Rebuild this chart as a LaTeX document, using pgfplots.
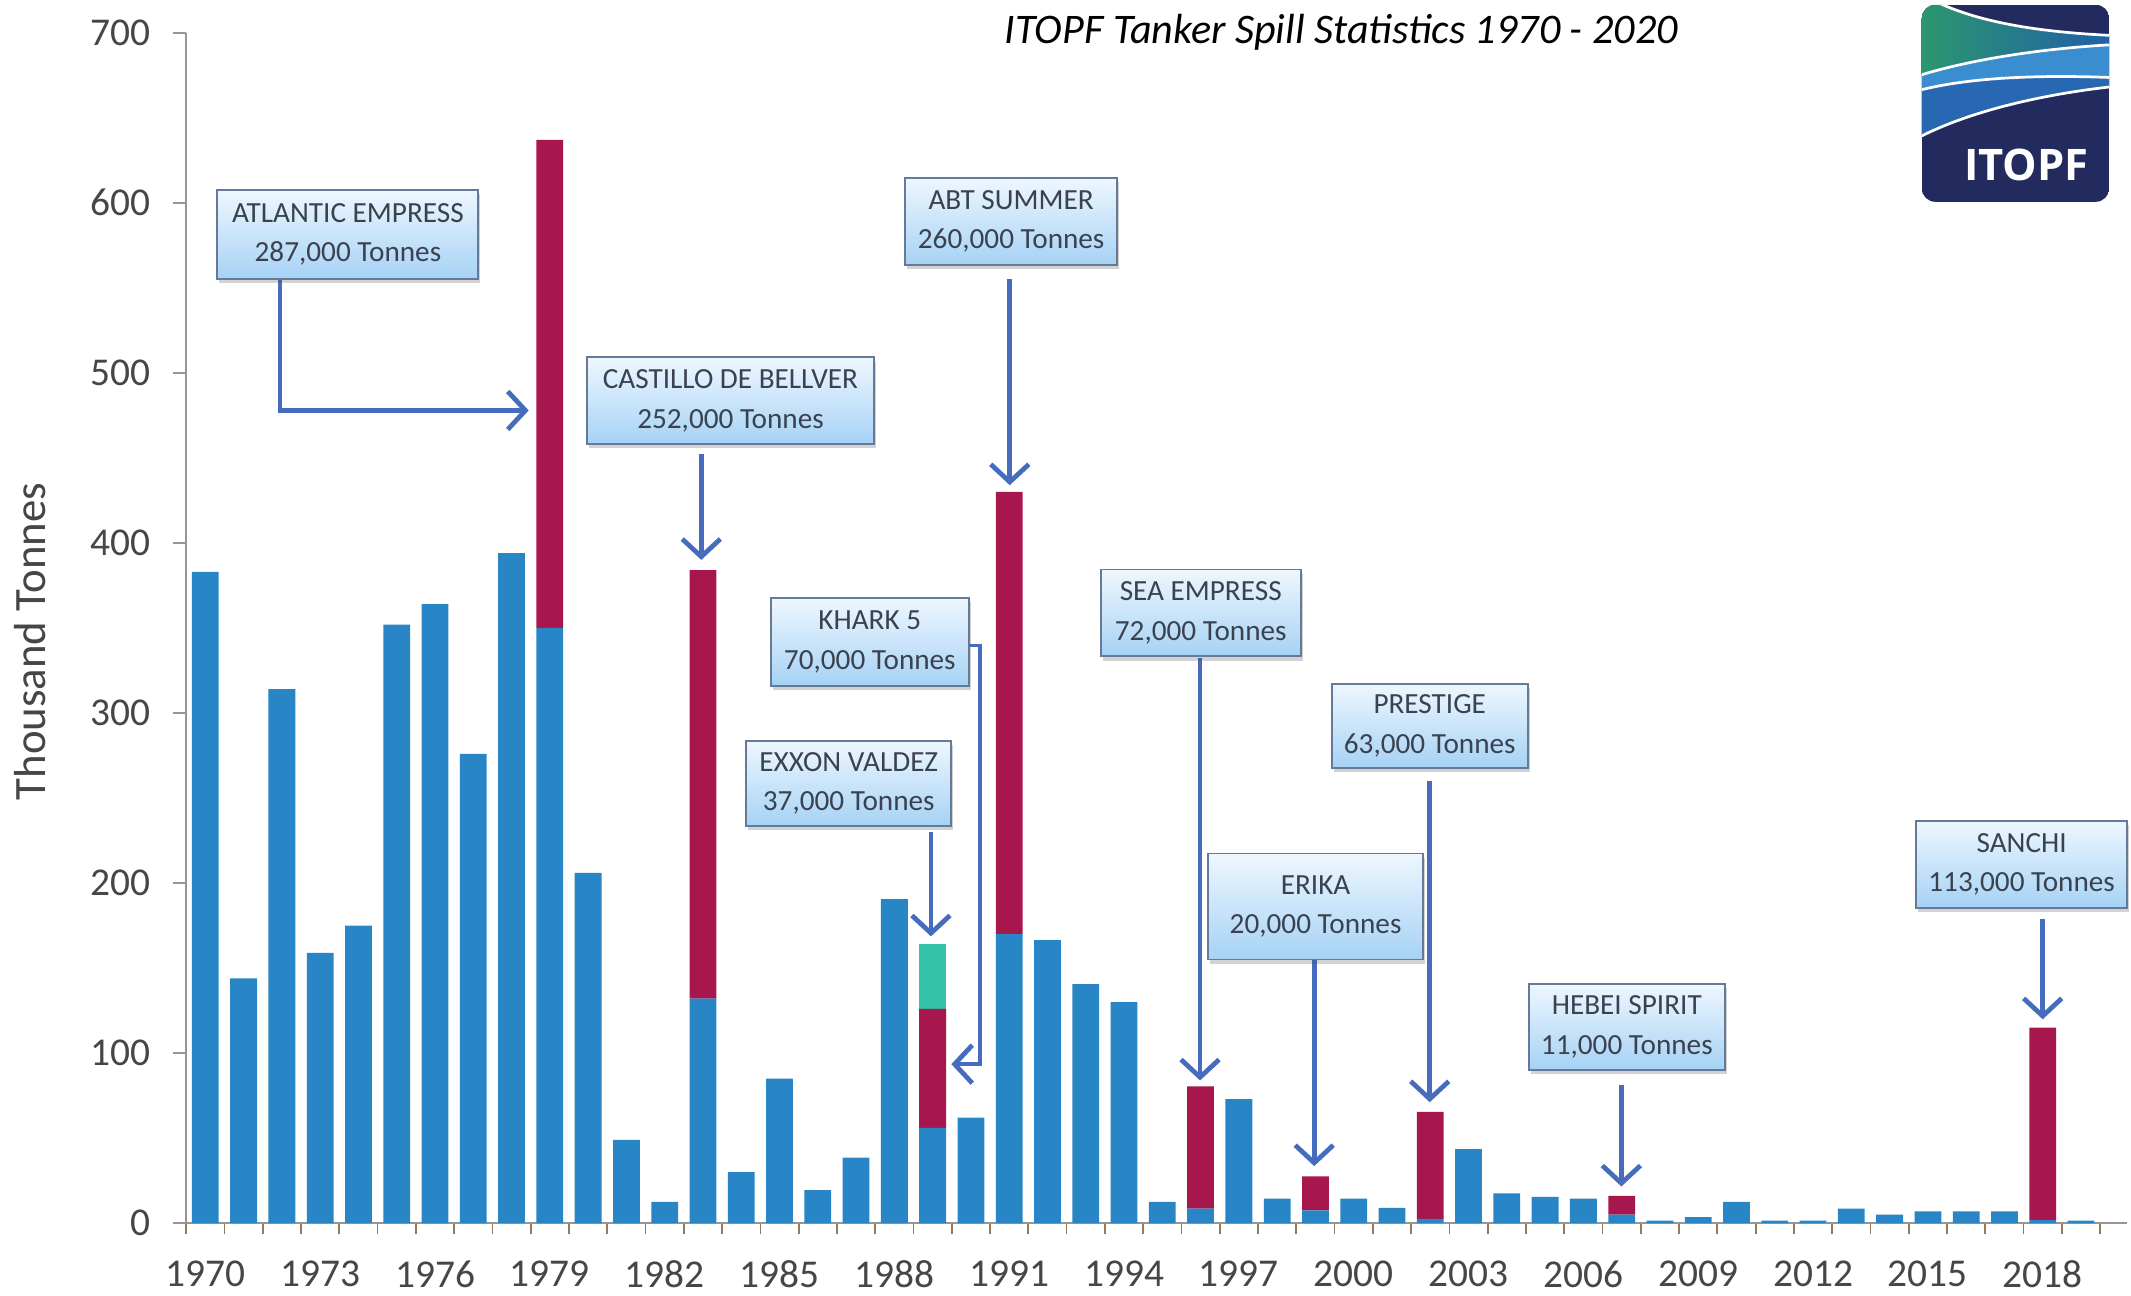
\documentclass[border=0pt]{standalone}
\usepackage{fontspec}
\setmainfont{Carlito}
\newfontfamily\logofont{Open Sans}
\usepackage{pgfplots}
\usepackage{pgfplotstable}
\pgfplotsset{compat=1.18}
\usetikzlibrary{arrows.meta,shadows}

\definecolor{barblue}{RGB}{40,134,198}
\definecolor{barred}{RGB}{168,22,78}
\definecolor{bargreen}{RGB}{52,194,168}
\definecolor{boxtop}{RGB}{238,247,254}
\definecolor{boxbot}{RGB}{166,210,245}
\definecolor{boxline}{RGB}{100,122,150}
\definecolor{boxtext}{RGB}{58,66,80}
\definecolor{arrowc}{RGB}{70,108,190}
\definecolor{axisgray}{RGB}{150,150,150}
\definecolor{tickbrown}{RGB}{150,122,92}
\definecolor{labelgray}{RGB}{70,70,70}
\definecolor{navy}{RGB}{35,42,94}
\definecolor{logogreen}{RGB}{44,150,112}
\definecolor{logoblue}{RGB}{32,96,168}
\definecolor{logolight}{RGB}{58,142,208}
\definecolor{logomid}{RGB}{40,104,178}

% thousand tonnes spilled per year: base, largest spill, second spill
\pgfplotstableread{
year blue red green
1970 383 0 0
1971 144 0 0
1972 314 0 0
1973 159 0 0
1974 175 0 0
1975 352 0 0
1976 364 0 0
1977 276 0 0
1978 394 0 0
1979 350 287 0
1980 206 0 0
1981 49 0 0
1982 12.5 0 0
1983 132 252 0
1984 30 0 0
1985 85 0 0
1986 19.5 0 0
1987 38.5 0 0
1988 190.5 0 0
1989 56 70 38
1990 62 0 0
1991 170 260 0
1992 166.5 0 0
1993 140.5 0 0
1994 130 0 0
1995 12.5 0 0
1996 8.5 72 0
1997 73 0 0
1998 14.5 0 0
1999 7.5 20 0
2000 14.5 0 0
2001 9 0 0
2002 2.5 63 0
2003 43.5 0 0
2004 17.5 0 0
2005 15.5 0 0
2006 14.5 0 0
2007 5 11 0
2008 1.5 0 0
2009 3.5 0 0
2010 12.5 0 0
2011 1.5 0 0
2012 1.5 0 0
2013 8.5 0 0
2014 5 0 0
2015 7 0 0
2016 7 0 0
2017 7 0 0
2018 2 113 0
2019 1.5 0 0
}\spills

\tikzset{
  box/.style={draw=boxline, line width=1.4bp, top color=boxtop, bottom color=boxbot,
    text=boxtext, align=center, inner sep=0pt,
    font=\fontsize{21.5bp}{29bp}\selectfont,
    drop shadow={shadow xshift=1.5bp, shadow yshift=-3bp, opacity=0.25, fill=black!70}},
  arr/.style={draw=arrowc, line width=3.5bp, line join=miter,
    -{Straight Barb[length=13bp,width=28bp,line width=3.5bp]}},
}

\begin{document}
\begin{tikzpicture}
\begin{scope}[x=1bp,y=-1bp]
  \fill[white] (0,0) rectangle (1568,953);
  \path[use as bounding box] (0,0) rectangle (1568,953);
\end{scope}

\begin{axis}[
  at={(137bp,-900bp)}, anchor=south west,
  scale only axis, width=1428bp, height=876bp,
  xmin=1969.5, xmax=2020.2, ymin=0, ymax=700,
  ybar stacked, bar width=0.7,
  axis lines=left,
  axis line style={-, draw=axisgray, line width=1.3bp},
  tick align=outside,
  xtick={1970,1973,...,2018},
  xticklabels={1970,1973,1976,1979,1982,1985,1988,1991,1994,1997,2000,2003,2006,2009,2012,2015,2018},
  minor xtick={1969.5,1970.5,...,2019.6},
  ytick={0,100,...,700},
  yticklabels={0,100,200,300,400,500,600,700},
  major tick length=10bp, minor tick length=8bp,
  major x tick style={draw=none},
  minor x tick style={draw=tickbrown, line width=1.3bp},
  y tick style={draw=axisgray, line width=1.3bp},
  /pgf/number format/assume math mode=true,
  ticklabel style={font=\fontsize{29bp}{30bp}\selectfont, text=labelgray},
  xticklabel style={yshift=-14bp},
  yticklabel style={xshift=-13bp},
]
\addplot[fill=barblue, draw=none] table[x=year,y=blue]{\spills};
\addplot[fill=barred, draw=none] table[x=year,y=red]{\spills};
\addplot[fill=bargreen, draw=none] table[x=year,y=green]{\spills};
\end{axis}

\begin{scope}[x=1bp,y=-1bp]
  % title and axis title
  \node[anchor=base, font=\itshape\fontsize{31bp}{32bp}\selectfont] at (987,32)
    {ITOPF Tanker Spill Statistics 1970 - 2020};
  \node[rotate=90, text=labelgray, font=\fontsize{33bp}{34bp}\selectfont] at (22,472)
    {Thousand Tonnes};

  % arrows
  \draw[arr] (206,206) -- (206,302) -- (389,302);
  \draw[arr] (516,334) -- (516,412);
  \draw[arr] (743,205) -- (743,357);
  \draw[arr, line width=2.5bp] (713,475) -- (721,475) -- (721,783) -- (700,783);
  \draw[arr] (685,612) -- (685,689);
  \draw[arr] (883,484) -- (883,795);
  \draw[arr] (967,701) -- (967,858);
  \draw[arr] (1052,575) -- (1052,811);
  \draw[arr] (1193,798) -- (1193,873);
  \draw[arr] (1503,676) -- (1503,750);

  % annotation boxes
  \node[box, minimum width=192bp, minimum height=65bp] at (256,172.5) {ATLANTIC EMPRESS\\287,000 Tonnes};
  \node[box, minimum width=211bp, minimum height=64bp] at (537.5,295) {CASTILLO DE BELLVER\\252,000 Tonnes};
  \node[box, minimum width=156bp, minimum height=64bp] at (744,163) {ABT SUMMER\\260,000 Tonnes};
  \node[box, minimum width=146bp, minimum height=65bp] at (640,472.5) {KHARK 5\\70,000 Tonnes};
  \node[box, minimum width=151bp, minimum height=63bp] at (624.5,576.5) {EXXON VALDEZ\\37,000 Tonnes};
  \node[box, minimum width=147bp, minimum height=64bp] at (883.5,451) {SEA EMPRESS\\72,000 Tonnes};
  \node[box, minimum width=158bp, minimum height=78bp] at (968,667) {ERIKA\\20,000 Tonnes};
  \node[box, minimum width=144bp, minimum height=62bp] at (1052,534) {PRESTIGE\\63,000 Tonnes};
  \node[box, minimum width=144bp, minimum height=63bp] at (1197,755.5) {HEBEI SPIRIT\\11,000 Tonnes};
  \node[box, minimum width=155bp, minimum height=64bp] at (1487.5,636) {SANCHI\\113,000 Tonnes};

  % logo
  \begin{scope}
    \clip[rounded corners=10bp] (1414,3.5) rectangle (1552,148.5);
    \fill[navy] (1414,3.5) rectangle (1552,148.5);
    \shade[left color=logogreen, right color=logoblue]
      (1414,0) -- (1422,0) .. controls (1450,14) and (1490,23) .. (1552,26)
      -- (1552,33) .. controls (1500,36) and (1450,44) .. (1414,55) -- cycle;
    \fill[logolight]
      (1414,55) .. controls (1450,44) and (1500,36) .. (1552,33)
      -- (1552,57) .. controls (1500,55) and (1450,57) .. (1414,66) -- cycle;
    \fill[logomid]
      (1414,66) .. controls (1450,57) and (1500,55) .. (1552,57)
      -- (1552,64) .. controls (1500,70) and (1450,82) .. (1414,100) -- cycle;
    \draw[white, line width=2bp] (1422,0) .. controls (1450,14) and (1490,23) .. (1552,26);
    \draw[white, line width=2bp] (1414,55) .. controls (1450,44) and (1500,36) .. (1552,33);
    \draw[white, line width=2bp] (1414,66) .. controls (1450,57) and (1500,55) .. (1552,57);
    \draw[white, line width=2bp] (1414,100) .. controls (1450,82) and (1500,70) .. (1552,64);
  \end{scope}
  \node[text=white, font=\logofont\bfseries\fontsize{32bp}{32bp}\selectfont] at (1491,121) {ITOPF};
\end{scope}
\end{tikzpicture}
\end{document}
